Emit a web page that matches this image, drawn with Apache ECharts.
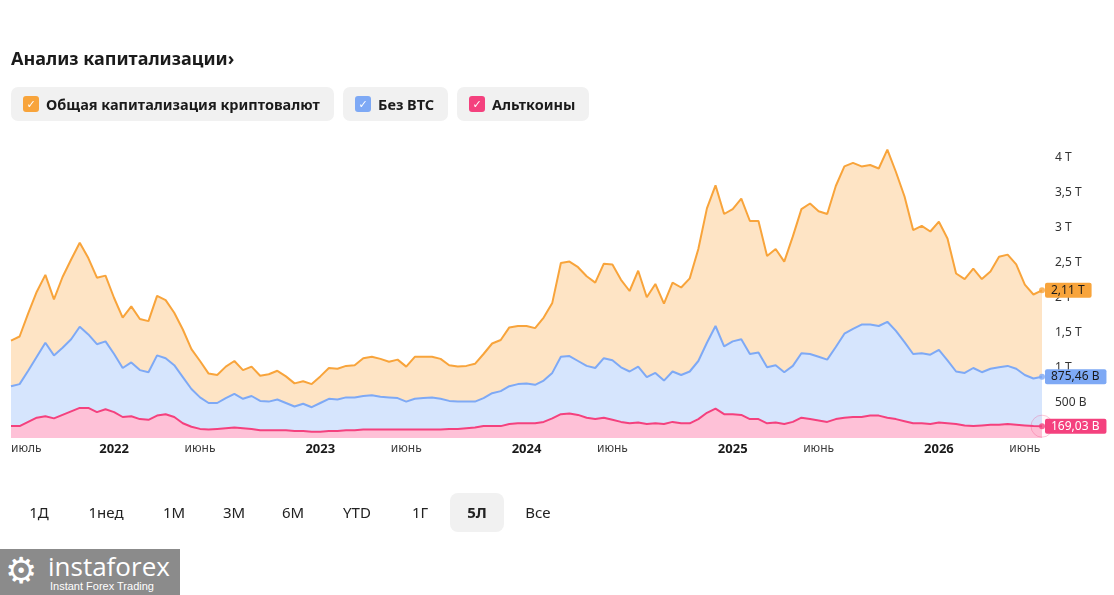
<!DOCTYPE html>
<html lang="ru">
<head>
<meta charset="utf-8">
<title>Анализ капитализации</title>
<script src="https://cdn.jsdelivr.net/npm/echarts@6.0.0/dist/echarts.min.js"></script>
<style>
  html, body { margin: 0; padding: 0; background: #fff; }
  body { width: 1114px; height: 595px; position: relative; overflow: hidden; font-family: "Noto Sans", "DejaVu Sans", sans-serif; color: #1b1b1b; }
  #chart { position: absolute; left: 0; top: 0; width: 1114px; height: 595px; }
  .title { position: absolute; left: 11px; top: 46px; font-size: 18px; font-weight: bold; z-index: 2; }
  .chip { position: absolute; top: 87px; height: 34px; border-radius: 7px; background: #f1f1f1; z-index: 2;
          display: flex; align-items: center; font-size: 14.5px; font-weight: bold; }
  .chip .box { width: 16px; height: 16px; border-radius: 3px; margin: 0 7px 0 12px; color: #fff; font-size: 11px;
               line-height: 16px; text-align: center; }
  .range { position: absolute; top: 493px; height: 39px; width: 54px; line-height: 39px; text-align: center;
           font-size: 15px; color: #222; z-index: 2; border-radius: 8px; }
  .range.on { background: #f1f1f1; font-weight: bold; }
  .logo { position: absolute; left: 0; top: 549px; width: 180px; height: 46px; background: #8b8b8b; color: #fff; z-index: 2; overflow: hidden; }
  .logo .gear { position: absolute; left: 5px; top: 2px; font-size: 36px; line-height: 40px; font-family: "DejaVu Sans", sans-serif; }
  .logo .name { position: absolute; left: 48px; top: 2px; font-size: 26px; line-height: 30px; font-family: "Open Sans", sans-serif; }
  .logo .sub { position: absolute; left: 50px; top: 31px; font-size: 11px; line-height: 12px; font-family: "Liberation Sans", sans-serif; }
</style>
</head>
<body>
<div id="chart"></div>
<div class="title">Анализ капитализации›</div>
<div class="chip" style="left:11px;width:323px"><span class="box" style="background:#f8a43b">✓</span>Общая капитализация криптовалют</div>
<div class="chip" style="left:343px;width:105px"><span class="box" style="background:#7ea9f5">✓</span>Без BTC</div>
<div class="chip" style="left:457px;width:132px"><span class="box" style="background:#f4417e">✓</span>Альткоины</div>

<div class="range" style="left:12px">1Д</div>
<div class="range" style="left:79px">1нед</div>
<div class="range" style="left:147px">1М</div>
<div class="range" style="left:207px">3М</div>
<div class="range" style="left:266px">6М</div>
<div class="range" style="left:330px">YTD</div>
<div class="range" style="left:393px">1Г</div>
<div class="range on" style="left:450px">5Л</div>
<div class="range" style="left:511px">Все</div>

<div class="logo"><span class="gear">⚙</span><span class="name">instaforex</span><span class="sub">Instant Forex Trading</span></div>

<script>
// полумесячные точки, июль 2021 – июль 2026
const dates = [
  '2021-07-01','2021-07-16','2021-08-01','2021-08-16','2021-09-01','2021-09-16','2021-10-01','2021-10-16','2021-11-01','2021-11-16','2021-12-01','2021-12-16',
  '2022-01-01','2022-01-16','2022-02-01','2022-02-16','2022-03-01','2022-03-16','2022-04-01','2022-04-16','2022-05-01','2022-05-16','2022-06-01','2022-06-16',
  '2022-07-01','2022-07-16','2022-08-01','2022-08-16','2022-09-01','2022-09-16','2022-10-01','2022-10-16','2022-11-01','2022-11-16','2022-12-01','2022-12-16',
  '2023-01-01','2023-01-16','2023-02-01','2023-02-16','2023-03-01','2023-03-16','2023-04-01','2023-04-16','2023-05-01','2023-05-16','2023-06-01','2023-06-16',
  '2023-07-01','2023-07-16','2023-08-01','2023-08-16','2023-09-01','2023-09-16','2023-10-01','2023-10-16','2023-11-01','2023-11-16','2023-12-01','2023-12-16',
  '2024-01-01','2024-01-16','2024-02-01','2024-02-16','2024-03-01','2024-03-16','2024-04-01','2024-04-16','2024-05-01','2024-05-16','2024-06-01','2024-06-16',
  '2024-07-01','2024-07-16','2024-08-01','2024-08-16','2024-09-01','2024-09-16','2024-10-01','2024-10-16','2024-11-01','2024-11-16','2024-12-01','2024-12-16',
  '2025-01-01','2025-01-16','2025-02-01','2025-02-16','2025-03-01','2025-03-16','2025-04-01','2025-04-16','2025-05-01','2025-05-16','2025-06-01','2025-06-16',
  '2025-07-01','2025-07-16','2025-08-01','2025-08-16','2025-09-01','2025-09-16','2025-10-01','2025-10-16','2025-11-01','2025-11-16','2025-12-01','2025-12-16',
  '2026-01-01','2026-01-16','2026-02-01','2026-02-16','2026-03-01','2026-03-16','2026-04-01','2026-04-16','2026-05-01','2026-05-16','2026-06-01','2026-06-16',
  '2026-07-01'
];

// триллионы долларов
const totalCap = [
  1.39, 1.45, 1.78, 2.09, 2.33, 1.98, 2.30, 2.55, 2.79, 2.57, 2.29, 2.32,
  2.00, 1.72, 1.88, 1.70, 1.67, 2.03, 1.97, 1.79, 1.55, 1.27, 1.10, 0.92,
  0.90, 1.02, 1.10, 0.97, 1.02, 0.89, 0.91, 0.96, 0.88, 0.78, 0.81, 0.77,
  0.88, 1.00, 0.99, 1.03, 1.04, 1.14, 1.16, 1.13, 1.09, 1.12, 1.02, 1.16,
  1.16, 1.16, 1.13, 1.04, 1.02, 1.03, 1.06, 1.20, 1.35, 1.40, 1.58, 1.60,
  1.60, 1.57, 1.72, 1.93, 2.50, 2.52, 2.44, 2.31, 2.22, 2.49, 2.48, 2.26,
  2.10, 2.39, 2.01, 2.20, 1.92, 2.22, 2.15, 2.28, 2.70, 3.28, 3.61, 3.20,
  3.27, 3.42, 3.10, 3.10, 2.60, 2.70, 2.52, 2.88, 3.27, 3.35, 3.24, 3.20,
  3.60, 3.88, 3.93, 3.88, 3.90, 3.85, 4.12, 3.80, 3.45, 2.97, 3.03, 2.95,
  3.09, 2.85, 2.35, 2.27, 2.42, 2.27, 2.38, 2.59, 2.62, 2.48, 2.19, 2.05,
  2.11
];
const exBtcCap = [
  0.74, 0.77, 0.96, 1.16, 1.36, 1.18, 1.29, 1.41, 1.59, 1.48, 1.34, 1.38,
  1.20, 1.00, 1.08, 0.97, 0.94, 1.18, 1.14, 1.04, 0.87, 0.70, 0.58, 0.50,
  0.50, 0.57, 0.63, 0.56, 0.60, 0.53, 0.52, 0.55, 0.50, 0.45, 0.49, 0.44,
  0.50, 0.56, 0.55, 0.58, 0.58, 0.60, 0.61, 0.59, 0.58, 0.57, 0.52, 0.56,
  0.57, 0.58, 0.56, 0.53, 0.52, 0.52, 0.52, 0.57, 0.64, 0.67, 0.74, 0.77,
  0.78, 0.76, 0.82, 0.93, 1.16, 1.17, 1.10, 1.03, 1.00, 1.14, 1.11, 1.01,
  0.95, 1.02, 0.87, 0.93, 0.82, 0.95, 0.90, 0.95, 1.10, 1.36, 1.60, 1.31,
  1.38, 1.41, 1.20, 1.22, 1.01, 1.04, 0.94, 1.03, 1.21, 1.20, 1.16, 1.12,
  1.30, 1.49, 1.56, 1.62, 1.62, 1.60, 1.66, 1.53, 1.37, 1.20, 1.21, 1.19,
  1.26, 1.11, 0.95, 0.93, 1.00, 0.94, 0.99, 1.01, 1.03, 0.99, 0.90, 0.85,
  0.87546
];
const altCap = [
  0.17, 0.17, 0.23, 0.29, 0.31, 0.28, 0.33, 0.38, 0.43, 0.43, 0.37, 0.41,
  0.37, 0.30, 0.31, 0.27, 0.26, 0.32, 0.34, 0.30, 0.21, 0.16, 0.13, 0.12,
  0.13, 0.14, 0.15, 0.14, 0.13, 0.11, 0.11, 0.11, 0.11, 0.10, 0.10, 0.09,
  0.09, 0.10, 0.10, 0.11, 0.11, 0.12, 0.12, 0.12, 0.12, 0.12, 0.12, 0.12,
  0.12, 0.12, 0.12, 0.13, 0.13, 0.14, 0.15, 0.17, 0.17, 0.17, 0.20, 0.21,
  0.21, 0.21, 0.23, 0.28, 0.34, 0.35, 0.33, 0.29, 0.27, 0.29, 0.26, 0.23,
  0.21, 0.22, 0.20, 0.21, 0.20, 0.23, 0.21, 0.21, 0.27, 0.36, 0.42, 0.34,
  0.34, 0.33, 0.27, 0.27, 0.21, 0.22, 0.20, 0.23, 0.29, 0.27, 0.25, 0.23,
  0.27, 0.29, 0.30, 0.30, 0.32, 0.32, 0.29, 0.27, 0.24, 0.21, 0.21, 0.20,
  0.22, 0.21, 0.20, 0.18, 0.17, 0.18, 0.19, 0.19, 0.20, 0.19, 0.18, 0.17,
  0.16903
];

const seriesNames = ['Общая капитализация криптовалют', 'Без BTC', 'Альткоины'];
const lineColors = ['#f8a43b', '#7ea9f5', '#f4417e'];
const areaColors = ['#fee4c5', '#d6e5fd', '#fec1d7'];

const last = dates.length - 1;

function capText(v) {
  if (v >= 1) return String(+v.toFixed(2)).replace('.', ',') + ' T';
  return (v * 1000).toFixed(2).replace('.', ',') + ' B';
}

function yTick(v) {
  if (v === 0) return '';
  if (v < 1) return Math.round(v * 1000) + ' B';
  return String(v).replace('.', ',') + ' T';
}

const monthNames = { '06': 'июнь', '07': 'июль' };

function makeLine(idx, values, labelColor) {
  return {
    name: seriesNames[idx],
    type: 'line',
    data: values,
    symbol: 'none',
    smooth: false,
    lineStyle: { color: lineColors[idx], width: 2 },
    itemStyle: { color: lineColors[idx] },
    areaStyle: { color: areaColors[idx], opacity: 1 },
    endLabel: {
      show: true,
      formatter: p => capText(p.value),
      backgroundColor: lineColors[idx],
      color: labelColor,
      fontSize: 12,
      fontFamily: 'Noto Sans',
      padding: [2, 7, 1, 6],
      borderRadius: 2,
      distance: 3
    }
  };
}

const chart = echarts.init(document.getElementById('chart'));
chart.setOption({
  animation: false,
  textStyle: { fontFamily: 'Noto Sans' },
  grid: { left: 11, right: 72, top: 144, bottom: 157 },
  xAxis: {
    type: 'category',
    data: dates,
    boundaryGap: false,
    axisLine: { show: false },
    axisTick: { show: false },
    splitLine: { show: false },
    axisLabel: {
      margin: 5,
      alignMinLabel: 'left',
      interval: (i, val) => i === 0 || val.endsWith('-01-01') || val.endsWith('-06-01'),
      formatter: val => {
        const m = val.slice(5, 7);
        if (m === '01') return '{y|' + val.slice(0, 4) + '}';
        return '{m|' + (monthNames[m] || '') + '}';
      },
      rich: {
        y: { fontSize: 13, fontWeight: 'bold', color: '#1a1a1a' },
        m: { fontSize: 12, color: '#3c3c3c' }
      }
    }
  },
  yAxis: {
    type: 'value',
    position: 'right',
    min: 0,
    max: 4.2,
    interval: 0.5,
    axisLine: { show: false },
    axisTick: { show: false },
    splitLine: { show: false },
    axisLabel: {
      margin: 13,
      showMaxLabel: false,
      color: '#333',
      fontSize: 12,
      formatter: yTick
    }
  },
  series: [
    makeLine(0, totalCap, '#1a1a1a'),
    makeLine(1, exBtcCap, '#1a1a1a'),
    makeLine(2, altCap, '#ffffff'),
    {
      type: 'scatter',
      silent: true,
      symbolSize: 22,
      z: 3,
      itemStyle: { color: 'rgba(244,65,126,0.05)', borderColor: 'rgba(244,65,126,0.35)', borderWidth: 1 },
      data: [[dates[last], altCap[last]]]
    },
    {
      type: 'scatter',
      silent: true,
      symbol: 'circle',
      symbolSize: 6,
      z: 4,
      data: [
        { value: [dates[last], totalCap[last]], itemStyle: { color: lineColors[0] } },
        { value: [dates[last], exBtcCap[last]], itemStyle: { color: lineColors[1] } },
        { value: [dates[last], altCap[last]], itemStyle: { color: lineColors[2] } }
      ]
    }
  ]
});
</script>
</body>
</html>
